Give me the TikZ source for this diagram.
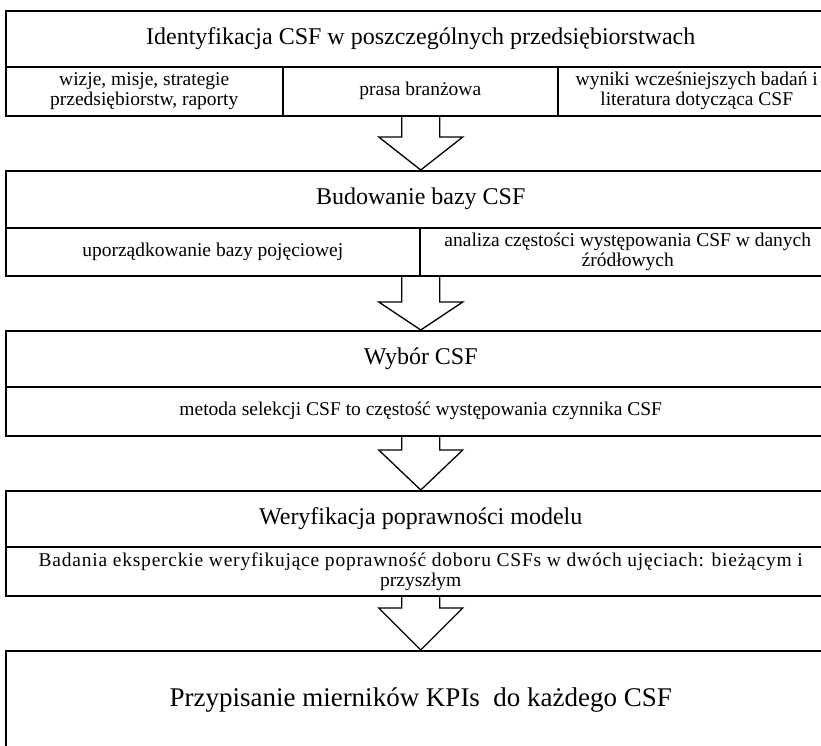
\documentclass[tikz,border=0pt]{standalone}
\usepackage{fontspec}
\setmainfont{Liberation Serif}
\usetikzlibrary{calc}

% hollow block arrow: start point, tip point, head length
\newcommand\blockarrow[3]{%
  \draw [arrowline] let \p1 = #1, \p2 = #2 in
    (\x1-19pt,\y1) -- (\x1-19pt,\y2+#3) -- (\x1-42pt,\y2+#3) -- (\x1,\y2)
    -- (\x1+42pt,\y2+#3) -- (\x1+19pt,\y2+#3) -- (\x1+19pt,\y1);
}

\begin{document}
\begin{tikzpicture}
    [ x=1pt, y=-1pt
    , every node/.style={draw, line width=1.5pt, inner sep=2pt, align=center, anchor=north west}
    , stage/.style={minimum width=830pt, minimum height=56pt, font=\fontsize{24}{28}\selectfont}
    , source/.style={minimum height=49pt, font=\fontsize{19.5}{20}\selectfont}
    , arrowline/.style={line width=1.3pt, line join=miter}
    ]
    \useasboundingbox (0,0) rectangle (821,745);
    \clip (0,0) rectangle (821,745);

    \node [stage] (ident) at (5,10) {Identyfikacja CSF w poszczególnych przedsiębiorstwach};
    \node [source, minimum width=277pt] (vision) at (5,66) {wizje, misje, strategie\\przedsiębiorstw, raporty};
    \node [source, minimum width=275pt] (press) at (282,66) {prasa branżowa};
    \node [source, minimum width=278pt] (studies) at (557,66) {wyniki wcześniejszych badań i\\literatura dotycząca CSF};

    \node [stage, minimum height=57pt] (base) at (5,170) {Budowanie bazy CSF};
    \node [source, minimum width=414pt, minimum height=48pt] (order) at (5,227) {uporządkowanie bazy pojęciowej};
    \node [source, minimum width=416pt, minimum height=48pt] (freq) at (419,227) {analiza częstości występowania CSF w danych\\źródłowych};

    \node [stage] (choice) at (5,330) {Wybór CSF};
    \node [source, minimum width=830pt] (method) at (5,386) {metoda selekcji CSF to częstość występowania czynnika CSF};

    \node [stage] (verify) at (5,490) {Weryfikacja poprawności modelu};
    \node [source, minimum width=830pt] (experts) at (5,546) {\addfontfeature{LetterSpace=4}Badania eksperckie weryfikujące poprawność doboru CSFs w dwóch ujęciach: bieżącym i\\przyszłym};

    \node [stage, minimum height=98pt, font=\fontsize{27}{30}\selectfont] (kpi) at (5,650) {Przypisanie mierników KPIs\ \ do każdego CSF};

    \blockarrow{(ident |- press.south)}{(base.north)}{33pt}
    \blockarrow{(base |- order.south)}{(choice.north)}{28pt}
    \blockarrow{(choice |- method.south)}{(verify.north)}{40pt}
    \blockarrow{(verify |- experts.south)}{(kpi.north)}{42pt}
\end{tikzpicture}
\end{document}
